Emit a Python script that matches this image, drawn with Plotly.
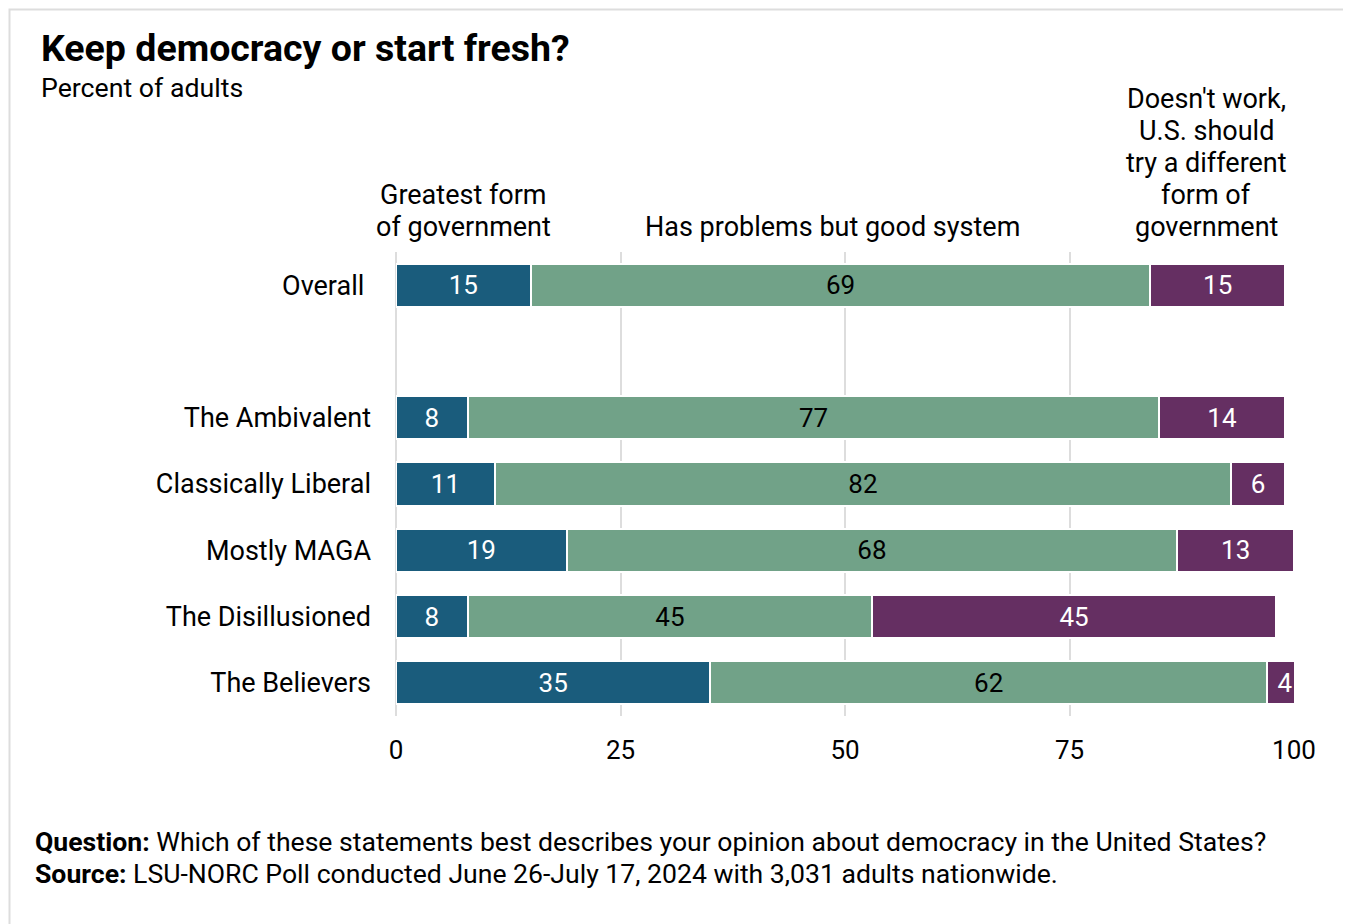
import plotly.graph_objects as go

groups = ["Overall", "The Ambivalent", "Classically Liberal", "Mostly MAGA",
          "The Disillusioned", "The Believers"]
greatest = [15, 8, 11, 19, 8, 35]
problems = [69, 77, 82, 68, 45, 62]
different = [15, 14, 6, 13, 45, 4]
series_names = ["Greatest form of government", "Has problems but good system",
                "Doesn't work, U.S. should try a different form of government"]
header_lines = [["Greatest form", "of government"],
                ["Has problems but good system"],
                ["Doesn't work,", "U.S. should", "try a different", "form of", "government"]]
x_ticks = [0, 25, 50, 75, 100]

colors = ["#1a5c7c", "#71a288", "#652f62"]
text_colors = ["white", "black", "white"]
spacer = " "
axis_order = [groups[0], spacer] + groups[1:]
labels = {g: g for g in groups}
labels["Overall"] = "Overall\u00a0"

FONT = "Roboto"
FS = 27
fig = go.Figure()
for vals, name, col, tcol in zip([greatest, problems, different], series_names, colors, text_colors):
    fig.add_trace(go.Bar(
        y=groups, x=vals, orientation="h", name=name,
        marker=dict(color=col, line=dict(color="white", width=2)),
        text=vals, texttemplate="%{x}", textposition="inside",
        insidetextanchor="middle", textangle=0, constraintext="none",
        textfont=dict(family=FONT, size=FS - 1, color=tcol),
        hoverinfo="skip",
    ))

# column headers, one annotation per line for tight line spacing
header_x = [7.5, 48.6, 90.2]
for hx, lines in zip(header_x, header_lines):
    n = len(lines)
    for i, line in enumerate(lines):
        k = n - 1 - i
        fig.add_annotation(x=hx, xref="x", y=1, yref="paper", yanchor="middle",
                           yshift=25 + 32 * k, text=line, showarrow=False,
                           font=dict(family=FONT, size=FS, color="black"))

fig.add_annotation(x=0, xref="paper", xshift=-357, xanchor="left",
                   y=1, yref="paper", yshift=204, yanchor="middle",
                   text="<b>Keep democracy or start fresh?</b>", showarrow=False,
                   font=dict(family=FONT, size=37.5, color="black"))
fig.add_annotation(x=0, xref="paper", xshift=-357, xanchor="left",
                   y=1, yref="paper", yshift=164, yanchor="middle",
                   text="Percent of adults", showarrow=False,
                   font=dict(family=FONT, size=26.7, color="black"))
fig.add_annotation(x=0, xref="paper", xshift=-363, xanchor="left",
                   y=0, yref="paper", yshift=-125, yanchor="middle",
                   text="<b>Question:</b> Which of these statements best describes your opinion about democracy in the United States?",
                   showarrow=False, font=dict(family=FONT, size=26.6, color="black"))
fig.add_annotation(x=0, xref="paper", xshift=-363, xanchor="left",
                   y=0, yref="paper", yshift=-157, yanchor="middle",
                   text="<b>Source:</b> LSU-NORC Poll conducted June 26-July 17, 2024 with 3,031 adults nationwide.",
                   showarrow=False, font=dict(family=FONT, size=26.6, color="black"))

# outer frame (kept inside the figure's own drawing area)
fig.add_shape(type="rect", xref="paper", yref="paper",
              x0=(9.5 - 396) / 898, x1=(1348 - 396) / 898,
              y0=(716 - 940) / 464, y1=(716 - 9.5) / 464,
              line=dict(color="#dddddd", width=2), fillcolor="rgba(0,0,0,0)",
              layer="below")

fig.update_layout(
    width=1351, height=924,
    margin=dict(l=388, r=65, t=244, b=216),
    barmode="stack", bargap=0.35,
    showlegend=False,
    plot_bgcolor="white", paper_bgcolor="white",
    font=dict(family=FONT, size=FS, color="black"),
    xaxis=dict(range=[0, 100], tickvals=x_ticks, showgrid=True,
               gridcolor="#dddddd", gridwidth=2, zeroline=True,
               zerolinecolor="#dddddd", zerolinewidth=2, showline=False,
               ticks="", ticklabelstandoff=16,
               tickfont=dict(family=FONT, size=26, color="black"),
               fixedrange=True),
    yaxis=dict(categoryorder="array", categoryarray=axis_order,
               tickvals=axis_order, ticktext=[labels.get(c, "") for c in axis_order],
               range=[len(axis_order) - 0.5, -0.5], showgrid=False,
               zeroline=False, showline=False, ticks="", ticklabelstandoff=24,
               tickfont=dict(family=FONT, size=FS, color="black"),
               fixedrange=True),
)

fig.write_html("out.html")
